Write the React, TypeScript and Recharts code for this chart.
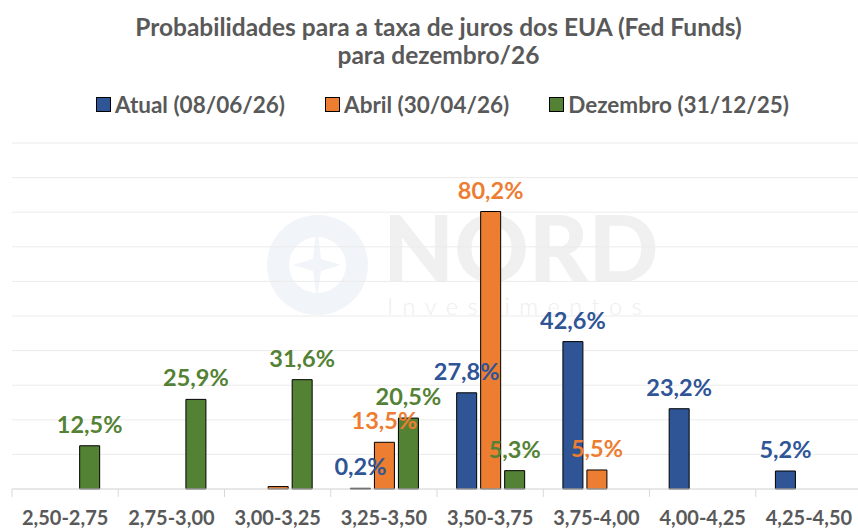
import React from 'react';
import { BarChart, Bar, XAxis, YAxis, CartesianGrid, LabelList } from 'recharts';

const categories = ['2,50-2,75', '2,75-3,00', '3,00-3,25', '3,25-3,50', '3,50-3,75', '3,75-4,00', '4,00-4,25', '4,25-4,50'];
const atual = [0, 0, 0, 0.2, 27.8, 42.6, 23.2, 5.2];
const abril = [0, 0, 0.7, 13.5, 80.2, 5.5, 0, 0];
const dezembro = [12.5, 25.9, 31.6, 20.5, 5.3, 0, 0, 0];
const yTicks = [0, 10, 20, 30, 40, 50, 60, 70, 80, 90, 100];
// rótulos que não aparecem no gráfico original
const hiddenLabels: Record<string, number[]> = { abril: [2] };

const series = [
  { key: 'atual', name: 'Atual (08/06/26)', color: '#2F5597' },
  { key: 'abril', name: 'Abril (30/04/26)', color: '#ED7D31' },
  { key: 'dezembro', name: 'Dezembro (31/12/25)', color: '#548235' },
];

const fmt = (v: number) => (v ? v.toFixed(1).replace('.', ',') + '%' : '');

const data = categories.map((faixa, i) => {
  const row: Record<string, any> = { faixa, atual: atual[i], abril: abril[i], dezembro: dezembro[i] };
  series.forEach((s) => {
    const hidden = (hiddenLabels[s.key] || []).includes(i);
    row[s.key + 'Label'] = hidden ? '' : fmt(row[s.key]);
  });
  return row;
});

const FONT = "Lato, 'Open Sans', sans-serif";
const TEXT = '#595959';
const CHART_W = 870;
const MARGIN = { top: 143, right: 8, left: 12, bottom: 0 };
const bandWidth = (CHART_W - MARGIN.left - MARGIN.right) / categories.length;

const CategoryTick = (props: any) => {
  const { x, y, payload } = props;
  const left = x - bandWidth / 2;
  return (
    <g>
      <line x1={left} y1={y - 8} x2={left} y2={y} stroke="#d9d9d9" />
      <text x={x} y={y + 28} textAnchor="middle" fill={TEXT} fontSize={20} fontWeight={700} fontFamily={FONT}>
        {payload.value}
      </text>
    </g>
  );
};

export default function App() {
  return (
    <div style={{ position: 'absolute', left: 0, top: 0, width: 858, height: 529, overflow: 'hidden', background: '#fff', fontFamily: FONT }}>
      {/* marca d'água */}
      <div style={{ position: 'absolute', left: 267, top: 215, width: 101, height: 100, borderRadius: '50%', border: '22px solid #f1f4f8', boxSizing: 'border-box' }} />
      <svg style={{ position: 'absolute', left: 267, top: 215 }} width={101} height={100}>
        <polygon points="50,8 54,44 74,50 54,56 50,84 46,56 26,50 46,44" fill="#f1f4f8" />
      </svg>
      <div style={{ position: 'absolute', left: 383, top: 212, fontSize: 92, fontWeight: 900, color: '#f0f0f0', lineHeight: '70px' }}>NORD</div>
      <div style={{ position: 'absolute', left: 387, top: 297, fontSize: 23.5, fontWeight: 300, color: '#eeeeee', letterSpacing: 9.5, lineHeight: '18px' }}>Investimentos</div>

      <div style={{ position: 'absolute', left: 0, top: 12.5, width: 877, textAlign: 'center', color: TEXT, fontSize: 24.5, fontWeight: 700, lineHeight: '28px' }}>
        Probabilidades para a taxa de juros dos EUA (Fed Funds)
        <br />
        para dezembro/26
      </div>
      <div style={{ position: 'absolute', left: 0, top: 91, width: 885, display: 'flex', justifyContent: 'center', gap: 40, color: TEXT, fontSize: 22.5, fontWeight: 700, lineHeight: 'normal' }}>
        {series.map((s) => (
          <div key={s.key} style={{ display: 'flex', alignItems: 'center', gap: 4 }}>
            <span style={{ width: 13, height: 13, background: s.color, border: '1px solid #000', display: 'inline-block' }} />
            <span>{s.name}</span>
          </div>
        ))}
      </div>

      <div style={{ position: 'absolute', left: 0, top: 0 }}>
        <BarChart width={CHART_W} height={529} data={data} margin={MARGIN} barCategoryGap="18.5%" barGap={4}>
          <CartesianGrid horizontal vertical={false} stroke="#ebebeb" />
          <XAxis dataKey="faixa" height={40} axisLine={{ stroke: '#d9d9d9' }} tickLine={false} tick={<CategoryTick />} interval={0} />
          <YAxis hide domain={[0, 100]} ticks={yTicks} />
          {series.map((s) => (
            <Bar key={s.key} dataKey={s.key} name={s.name} fill={s.color} stroke="#000" strokeWidth={1} isAnimationActive={false}>
              <LabelList dataKey={s.key + 'Label'} position="top" offset={13} fill={s.color} fontSize={23.5} fontWeight={700} fontFamily={FONT} />
            </Bar>
          ))}
        </BarChart>
      </div>
    </div>
  );
}
